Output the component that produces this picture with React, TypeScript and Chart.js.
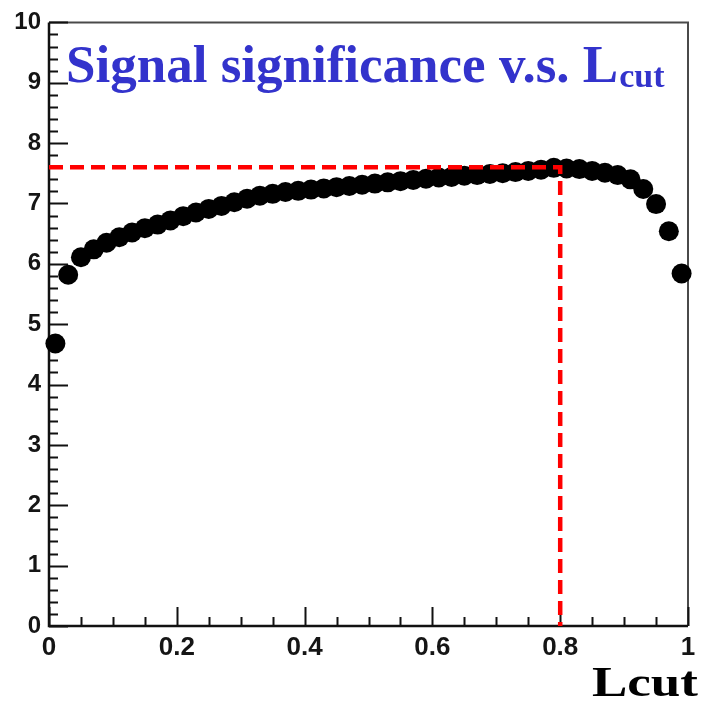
import { useEffect, useRef } from "react";
import { Chart, registerables } from "chart.js";

Chart.register(...registerables);

// Lcut cut values (bin centres)
const lcutValues = [
  0.01, 0.03, 0.05, 0.07, 0.09, 0.11, 0.13, 0.15, 0.17, 0.19,
  0.21, 0.23, 0.25, 0.27, 0.29, 0.31, 0.33, 0.35, 0.37, 0.39,
  0.41, 0.43, 0.45, 0.47, 0.49, 0.51, 0.53, 0.55, 0.57, 0.59,
  0.61, 0.63, 0.65, 0.67, 0.69, 0.71, 0.73, 0.75, 0.77, 0.79,
  0.81, 0.83, 0.85, 0.87, 0.89, 0.91, 0.93, 0.95, 0.97, 0.99,
];

// Signal significance
const significance = [
  4.68, 5.82, 6.11, 6.24, 6.35, 6.44, 6.52, 6.59, 6.65, 6.72,
  6.79, 6.85, 6.91, 6.96, 7.02, 7.08, 7.13, 7.16, 7.19, 7.21,
  7.23, 7.25, 7.27, 7.29, 7.31, 7.33, 7.35, 7.37, 7.39, 7.41,
  7.43, 7.44, 7.46, 7.47, 7.49, 7.50, 7.52, 7.54, 7.56, 7.59,
  7.58, 7.57, 7.54, 7.51, 7.47, 7.40, 7.24, 6.99, 6.54, 5.84,
];

// Red dashed guide (optimal cut)
const cutLineX = [0, 0.8, 0.8];
const cutLineY = [7.6, 7.6, 0];

const xTickValues = [0, 0.2, 0.4, 0.6, 0.8, 1];
const xTickLabels = ["0", "0.2", "0.4", "0.6", "0.8", "1"];
const yTickValues = [0, 1, 2, 3, 4, 5, 6, 7, 8, 9, 10];
const yTickLabels = ["0", "1", "2", "3", "4", "5", "6", "7", "8", "9", "10"];
const xMinorCount = 20; // minor ticks every 0.05
const yMinorCount = 50; // minor ticks every 0.2

const titleMain = "Signal significance v.s. L";
const titleSub = "cut";
const xAxisTitle = "Lcut";

const framePlugin = {
  id: "rootFrame",
  beforeDatasetsDraw(chart: any) {
    const { ctx, chartArea: a, scales } = chart;
    const xs = scales.x;
    const ys = scales.y;
    ctx.save();
    ctx.lineCap = "butt";
    // top & right frame
    ctx.strokeStyle = "#4a4a4a";
    ctx.lineWidth = 2;
    ctx.beginPath();
    ctx.moveTo(a.left, a.top);
    ctx.lineTo(a.right, a.top);
    ctx.lineTo(a.right, a.bottom);
    ctx.stroke();
    // axes
    ctx.strokeStyle = "#111";
    ctx.lineWidth = 2.5;
    ctx.beginPath();
    ctx.moveTo(a.left, a.top);
    ctx.lineTo(a.left, a.bottom);
    ctx.lineTo(a.right, a.bottom);
    ctx.stroke();
    // y ticks (inside)
    ctx.lineWidth = 2;
    ctx.beginPath();
    for (let i = 0; i <= yMinorCount; i++) {
      const v = (i * (yTickValues[yTickValues.length - 1] - yTickValues[0])) / yMinorCount;
      const py = Math.round(ys.getPixelForValue(v)) + 0.5;
      const len = i % 5 === 0 ? 19 : 9;
      ctx.moveTo(a.left, py);
      ctx.lineTo(a.left + len, py);
    }
    // x ticks (inside)
    for (let i = 0; i <= xMinorCount; i++) {
      const v = (i * (xTickValues[xTickValues.length - 1] - xTickValues[0])) / xMinorCount;
      const px = Math.round(xs.getPixelForValue(v)) + 0.5;
      const len = i % 4 === 0 ? 19 : 9;
      ctx.moveTo(px, a.bottom);
      ctx.lineTo(px, a.bottom - len);
    }
    ctx.stroke();
    ctx.restore();
  },
  afterDraw(chart: any) {
    const { ctx } = chart;
    ctx.save();
    ctx.textAlign = "left";
    ctx.textBaseline = "alphabetic";
    ctx.fillStyle = "#3333cc";
    ctx.font = 'bold 53px "Liberation Serif", "Times New Roman", serif';
    ctx.fillText(titleMain, 66, 82);
    const w = ctx.measureText(titleMain).width;
    ctx.font = 'bold 34px "Liberation Serif", "Times New Roman", serif';
    ctx.fillText(titleSub, 66 + w + 1, 87);

    ctx.fillStyle = "#000";
    ctx.font = 'bold 42px "Liberation Serif", "Times New Roman", serif';
    const lw = ctx.measureText(xAxisTitle).width;
    const sx = 106 / lw;
    ctx.translate(698, 696);
    ctx.scale(sx, 1);
    ctx.textAlign = "right";
    ctx.fillText(xAxisTitle, 0, 0);
    ctx.restore();
  },
};

export default function App() {
  const ref = useRef<HTMLCanvasElement>(null);

  useEffect(() => {
    if (!ref.current) return;
    const tickFont = { family: '"Liberation Sans", Arial, sans-serif', weight: "bold" as const };
    const chart = new Chart(ref.current, {
      type: "scatter",
      data: {
        datasets: [
          {
            label: "cut",
            data: cutLineX.map((x, i) => ({ x, y: cutLineY[i] })),
            showLine: true,
            borderColor: "#ff0000",
            borderWidth: 4.5,
            borderDash: [14, 7],
            pointRadius: 0,
            fill: false,
            tension: 0,
            order: 0,
            clip: false as any,
          },
          {
            label: "significance",
            data: lcutValues.map((x, i) => ({ x, y: significance[i] })),
            backgroundColor: "#000",
            borderColor: "#000",
            borderWidth: 0,
            pointRadius: 10,
            order: 1,
            clip: false as any,
          },
        ],
      },
      options: {
        animation: false,
        responsive: false,
        devicePixelRatio: 1,
        events: [],
        layout: { padding: { left: 0, right: 15, top: 19, bottom: 0 } },
        plugins: {
          legend: { display: false },
          tooltip: { enabled: false },
          title: { display: false },
        },
        scales: {
          x: {
            type: "linear",
            min: 0,
            max: 1,
            grid: { display: false, drawTicks: false },
            border: { display: false },
            afterBuildTicks: (s: any) => {
              s.ticks = xTickValues.map((v) => ({ value: v }));
            },
            afterFit: (s: any) => {
              s.height = 81;
            },
            ticks: {
              callback: (_v: any, i: number) => xTickLabels[i],
              font: { ...tickFont, size: 26 },
              color: "#151515",
              padding: 6,
              maxRotation: 0,
              autoSkip: false,
            },
          },
          y: {
            type: "linear",
            min: 0,
            max: 10,
            grid: { display: false, drawTicks: false },
            border: { display: false },
            afterBuildTicks: (s: any) => {
              s.ticks = yTickValues.map((v) => ({ value: v }));
            },
            afterFit: (s: any) => {
              s.width = 49;
            },
            ticks: {
              callback: (_v: any, i: number) => yTickLabels[i],
              font: { ...tickFont, size: 24 },
              color: "#151515",
              padding: 8,
              autoSkip: false,
            },
          },
        },
      },
      plugins: [framePlugin],
    });
    return () => chart.destroy();
  }, []);

  return (
    <div style={{ position: "fixed", left: 0, top: 0, width: 703, height: 707, background: "#fff" }}>
      <canvas ref={ref} width={703} height={707} />
    </div>
  );
}
